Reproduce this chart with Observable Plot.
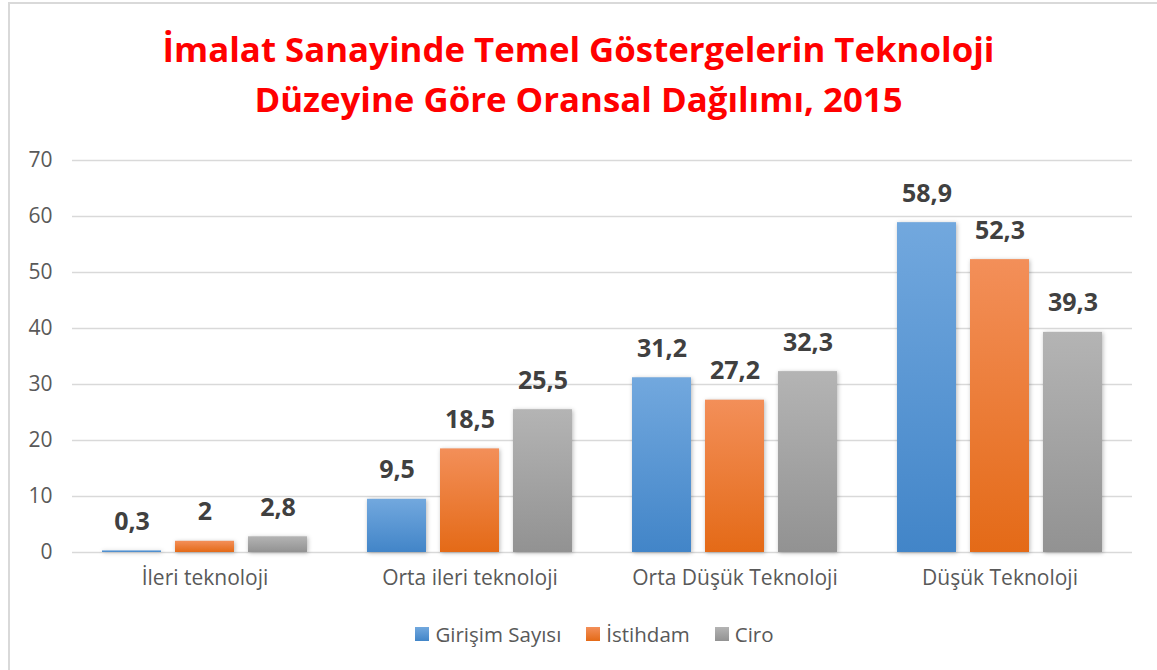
<!DOCTYPE html>
<html>
<head>
<meta charset="utf-8">
<script src="https://cdn.jsdelivr.net/npm/d3@7"></script>
<script src="https://cdn.jsdelivr.net/npm/@observablehq/plot@0.6"></script>
<style>
  body { margin: 0; background: #fff; font-family: "Open Sans", sans-serif; }
  #wrap { position: relative; width: 1157px; height: 670px; overflow: hidden; }
  #frame { position: absolute; left: 8px; top: 2px; width: 1170px; height: 700px; border: 2px solid #d9d9d9; box-sizing: border-box; }
  #title { position: absolute; left: 0; width: 1157px; top: 24px; text-align: center; color: #ff0000; font-weight: 700; font-size: 34.8px; line-height: 50px; }
  #chart { position: absolute; left: 0; top: 140px; }
  #legend { position: absolute; left: 16px; width: 1157px; top: 620px; display: flex; justify-content: center; gap: 25px; font-size: 20.5px; color: #595959; }
  #legend .item { display: flex; align-items: center; gap: 6px; }
  #legend .sw { width: 14px; height: 14px; display: inline-block; }
  g[aria-label="bar"] rect { filter: drop-shadow(1px 1px 2px rgba(0,0,0,0.28)); }
</style>
</head>
<body>
<div id="wrap">
  <div id="frame"></div>
  <div id="title">İmalat Sanayinde Temel Göstergelerin Teknoloji<br>Düzeyine Göre Oransal Dağılımı, 2015</div>
  <div id="chart"></div>
  <div id="legend"></div>
</div>
<script>
const categories = ["İleri teknoloji", "Orta ileri teknoloji", "Orta Düşük Teknoloji", "Düşük Teknoloji"];
const seriesNames = ["Girişim Sayısı", "İstihdam", "Ciro"];
const girisim = [0.3, 9.5, 31.2, 58.9];
const istihdam = [2, 18.5, 27.2, 52.3];
const ciro = [2.8, 25.5, 32.3, 39.3];
const yTicks = [0, 10, 20, 30, 40, 50, 60, 70];

const gradients = [
  {id: "g0", top: "#72a8de", bottom: "#4285c8"},
  {id: "g1", top: "#f38f59", bottom: "#e46a17"},
  {id: "g2", top: "#b4b4b4", bottom: "#929292"}
];

const seriesValues = [girisim, istihdam, ciro];
const rows = [];
categories.forEach((c, i) => {
  seriesNames.forEach((s, j) => rows.push({cat: c, series: s, value: seriesValues[j][i]}));
});

const defs = () => {
  const d = d3.create("svg:defs");
  gradients.forEach(g => {
    const lg = d.append("linearGradient").attr("id", g.id).attr("x1", 0).attr("y1", 0).attr("x2", 0).attr("y2", 1);
    lg.append("stop").attr("offset", "0%").attr("stop-color", g.top);
    lg.append("stop").attr("offset", "100%").attr("stop-color", g.bottom);
  });
  return d.node();
};

const fmt = v => String(v).replace(".", ",");

const chart = Plot.plot({
  width: 1157,
  height: 470,
  marginTop: 20,
  marginBottom: 58,
  marginLeft: 70,
  marginRight: 24,
  style: {fontFamily: "'Open Sans', sans-serif", background: "transparent"},
  fx: {domain: categories, padding: 0, label: null, axis: null},
  x: {domain: seriesNames, paddingInner: 0.186, paddingOuter: 0.394, axis: null},
  y: {domain: [0, 70], label: null, axis: null},
  color: {domain: seriesNames, range: gradients.map(g => `url(#${g.id})`)},
  marks: [
    defs,
    Plot.ruleY(yTicks, {stroke: "#d9d9d9", strokeWidth: 1.5}),
    Plot.axisY({ticks: yTicks, tickSize: 0, tickPadding: 20, fontSize: 21, color: "#595959", anchor: "left", label: null}),
    Plot.axisFx({anchor: "bottom", tickSize: 0, tickPadding: 18, fontSize: 21, color: "#595959", label: null}),
    Plot.barY(rows, {fx: "cat", x: "series", y: "value", fill: "series"}),
    Plot.text(rows, {fx: "cat", x: "series", y: "value", text: d => fmt(d.value), dy: -29, fontSize: 25, fontWeight: 700, fill: "#404040"})
  ]
});
document.getElementById("chart").appendChild(chart);

const leg = d3.select("#legend");
seriesNames.forEach((s, i) => {
  const it = leg.append("div").attr("class", "item");
  it.append("span").attr("class", "sw").style("background", `linear-gradient(${gradients[i].top}, ${gradients[i].bottom})`);
  it.append("span").text(s);
});
</script>
</body>
</html>
